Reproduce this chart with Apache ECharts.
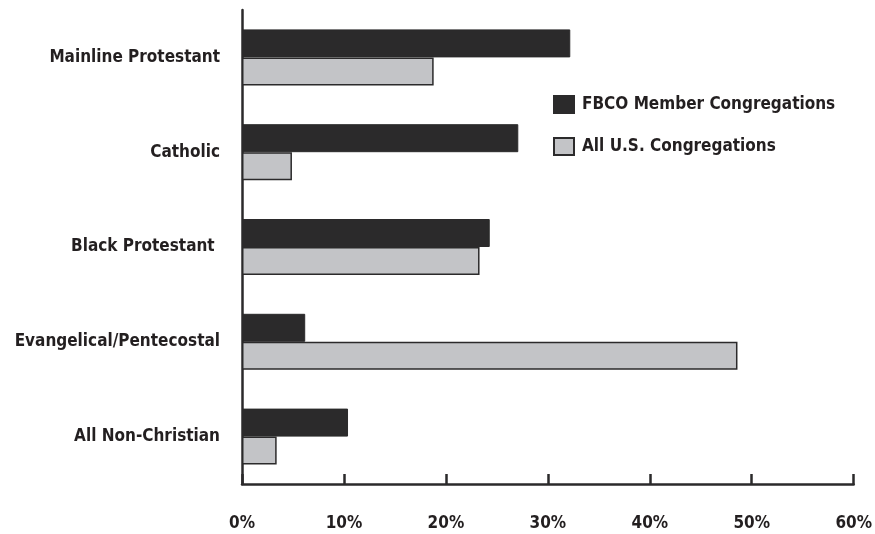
<!DOCTYPE html>
<html>
<head>
<meta charset="utf-8">
<script src="https://cdn.jsdelivr.net/npm/echarts@6/dist/echarts.min.js"></script>
<style>
  html, body { margin: 0; padding: 0; background: #fff; }
  #chart { width: 875px; height: 534px; }
</style>
</head>
<body>
<div id="chart"></div>
<script>
// Share of congregations by religious tradition (%)
const categories = [
  'Mainline Protestant',
  'Catholic',
  'Black Protestant ',
  'Evangelical/Pentecostal',
  'All Non-Christian'
];
const fbcoMembers = [32.2, 27.1, 24.3, 6.2, 10.4];
const allUSCongregations = [18.8, 4.9, 23.3, 48.6, 3.4];
const seriesNames = ['FBCO Member Congregations', 'All U.S. Congregations'];

const ink = '#2b2a2b';
const grey = '#c3c4c7';
const font = '"Liberation Sans Narrow", "DejaVu Sans Condensed", "Liberation Sans", sans-serif';

const chart = echarts.init(document.getElementById('chart'), null, { renderer: 'canvas' });
chart.setOption({
  animation: false,
  backgroundColor: '#ffffff',
  grid: { left: 242, right: 21, top: 10, bottom: 50, containLabel: false },
  legend: {
    orient: 'vertical',
    left: 553,
    top: 95,
    padding: 0,
    itemWidth: 20,
    itemHeight: 17,
    itemGap: 23,
    icon: 'rect',
    selectedMode: false,
    textStyle: { fontFamily: font, fontWeight: 'bold', fontSize: 17, color: '#231f20', padding: [0, 0, 0, 3] },
    data: seriesNames
  },
  xAxis: {
    type: 'value',
    min: 0,
    max: 60,
    interval: 10,
    splitLine: { show: false },
    axisLine: { show: true, lineStyle: { color: ink, width: 2.5 } },
    axisTick: { show: true, inside: true, length: 10, lineStyle: { color: ink, width: 2.5 } },
    axisLabel: {
      margin: 31,
      formatter: '{value}%',
      fontFamily: font, fontWeight: 'bold', fontSize: 17, color: '#231f20'
    }
  },
  yAxis: {
    type: 'category',
    inverse: true,
    data: categories,
    axisLine: { show: true, lineStyle: { color: ink, width: 2.5 } },
    axisTick: { show: false },
    axisLabel: {
      margin: 22,
      fontFamily: font, fontWeight: 'bold', fontSize: 17, color: '#231f20'
    }
  },
  series: [
    {
      name: seriesNames[0],
      type: 'bar',
      data: fbcoMembers,
      barWidth: 28,
      barGap: '0%',
      itemStyle: { color: ink, borderColor: ink, borderWidth: 1 }
    },
    {
      name: seriesNames[1],
      type: 'bar',
      data: allUSCongregations,
      barWidth: 28,
      barGap: '0%',
      itemStyle: { color: grey, borderColor: ink, borderWidth: 1.5 }
    }
  ]
});
</script>
</body>
</html>
